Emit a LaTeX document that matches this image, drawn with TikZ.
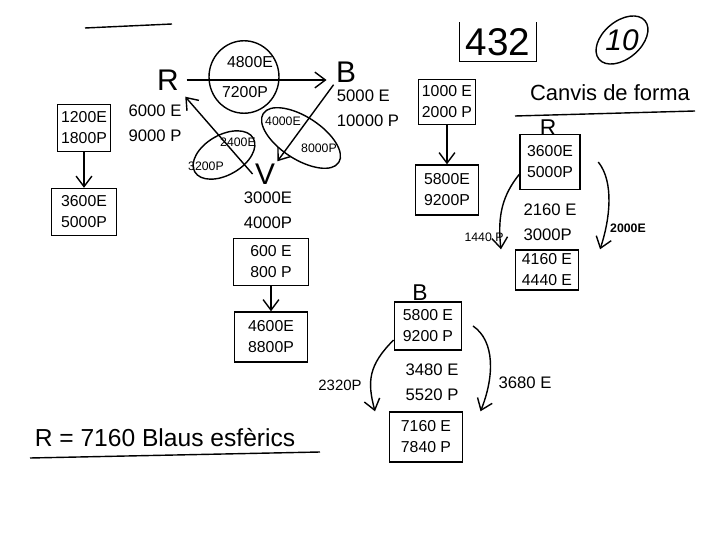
\documentclass[tikz,border=0pt]{standalone}
\usepackage{fontspec}
\setmainfont{Liberation Sans}
\usetikzlibrary{arrows.meta, positioning, shapes.geometric}

\tikzset{
  box/.style={draw, line width=0.8pt, align=center, inner sep=2pt, font=\fontsize{9}{12}\selectfont},
  val/.style={align=left, inner sep=1pt, font=\fontsize{9.5}{14}\selectfont},
  big/.style={inner sep=1pt, font=\fontsize{17}{17}\selectfont},
  mid/.style={inner sep=1pt, font=\fontsize{13}{13}\selectfont},
  tiny/.style={inner sep=1pt, font=\fontsize{7}{8}\selectfont},
  ov/.style={ellipse, draw, line width=0.8pt},
  arr/.style={-{Straight Barb[length=6pt,width=9pt]}, line width=0.8pt},
}

\begin{document}
\begin{tikzpicture}[x=0.02cm, y=-0.02cm, line width=0.8pt]
    \useasboundingbox (0,0) rectangle (720,540);

    % ratlla de dalt
    \draw (85,28) -- (172,24);

    % R, B i V
    \node[big] (rTop) at (168,80) {R};
    \node[big] (bTop) at (346,72) {B};
    \node[big] (vTop) at (265,174) {V};
    \node[val] (rVal) at (155,123) {6000 E\\9000 P};
    \node[val] (bVal) at (368,108) {5000 E\\10000 P};

    % R -> B
    \node[ov, minimum width=1.4cm, minimum height=1.45cm] (ovRB) at (244,77) {};
    \node[box, draw=none] (tRB1) at (250,62) {4800E};
    \node[box, draw=none] (tRB2) at (245,92) {7200P};
    \draw[arr] ([xshift=3pt]rTop.east) -- ([xshift=-4pt]bTop.west |- rTop.east);

    % V -> R
    \node[ov, rotate=30, minimum width=1.35cm, minimum height=0.8cm] (ovVR) at (224,155) {};
    \node[tiny] (tVR1) at (238,142) {2400E};
    \node[tiny] (tVR2) at (206,166) {3200P};
    \draw[arr] (vTop.west) -- ([shift={(4,4)}]rTop.south east);

    % B -> V
    \node[ov, rotate=-33, minimum width=1.8cm, minimum height=0.85cm] (ovBV) at (301,138) {};
    \node[tiny] (tBV1) at (283,121) {4000E};
    \node[tiny] (tBV2) at (319,148) {8000P};
    \draw[arr] (bTop.south west) -- (vTop.north east);

    % columna R
    \node[box, minimum width=1.06cm, minimum height=0.94cm] (bL1) at (84,128) {1200E\\1800P};
    \node[box, minimum width=1.3cm, minimum height=0.94cm] (bL2) at (84,212) {3600E\\5000P};
    \draw[arr] (bL1) -- (bL2);

    % columna V
    \node[val] (vVal) at (268,210) {3000E\\4000P};
    \node[box, minimum width=1.5cm, minimum height=0.94cm] (bV1) at (271,262) {600 E\\800 P};
    \node[box, minimum width=1.45cm, minimum height=1cm] (bV2) at (271,337) {4600E\\8800P};
    \draw[arr] (bV1) -- (bV2);

    % numero i nota
    \node[inner sep=3pt, font=\fontsize{22}{22}\selectfont] (num) at (498,42) {432};
    \draw (num.north west) -- (num.south west) -- (num.south east) -- (num.north east);
    \node[ov, rotate=40, minimum width=1.2cm, minimum height=0.75cm] (notaOv) at (622,40) {};
    \node[big, font=\fontsize{17}{17}\selectfont\itshape] (nota) at (622,40) {10};

    % columna B
    \node[box, minimum width=1.1cm, minimum height=0.9cm] (bR1) at (447,102) {1000 E\\2000 P};
    \node[box, minimum width=1.25cm, minimum height=1cm] (bR2) at (447,190) {5800E\\9200P};
    \draw[arr] (bR1) -- (bR2);

    % canvis de forma
    \node[mid, font=\fontsize{12.5}{13}\selectfont] (titol) at (610,93) {Canvis de forma};
    \draw (515,116) -- (695,111);

    % R
    \node[mid] (rLbl) at (548,128) {R};
    \node[box, minimum width=1.2cm, minimum height=1.1cm] (bR3) at (550,162) {3600E\\5000P};
    \node[val] (rMid) at (550,222) {2160 E\\3000P};
    \node[box, minimum width=1.25cm, minimum height=0.8cm] (bR4) at (547,270) {4160 E\\4440 E};
    \draw[arr] ([yshift=-7pt]bR3.west) .. controls +(-16,20) and +(-4,-35) .. ([xshift=-8pt]bR4.north west);
    \draw[arr] ([xshift=10pt]bR3.east) .. controls +(16,20) and +(10,-30) .. ([xshift=12pt]bR4.north east);
    \node[tiny] (l1440) at (484,237) {1440 P};
    \node[tiny, font=\fontsize{7}{8}\selectfont\bfseries] (l2000) at (628,228) {2000E};

    % B
    \node[mid] (bLbl) at (420,293) {B};
    \node[box, minimum width=1.35cm, minimum height=0.96cm] (bB1) at (428,326) {5800 E\\9200 P};
    \node[val] (bMid) at (432,382) {3480 E\\5520 P};
    \node[box, minimum width=1.45cm, minimum height=1cm] (bB2) at (426,437) {7160 E\\7840 P};
    \draw[arr] ([yshift=-8pt]bB1.west) .. controls +(-25,25) and +(-8,-30) .. ([xshift=-8pt]bB2.north west);
    \draw[arr] ([xshift=6pt]bB1.east) .. controls +(22,15) and +(14,-35) .. ([xshift=10pt]bB2.north east);
    \node[val, font=\fontsize{8.5}{10}\selectfont] (l2320) at (340,385) {2320P};
    \node[val] (l3680) at (525,383) {3680 E};

    % resultat
    \node[mid, font=\fontsize{14}{14}\selectfont] (res) at (165,438) {R = 7160 Blaus esfèrics};
    \draw (30,458) -- (320,452);
\end{tikzpicture}
\end{document}
